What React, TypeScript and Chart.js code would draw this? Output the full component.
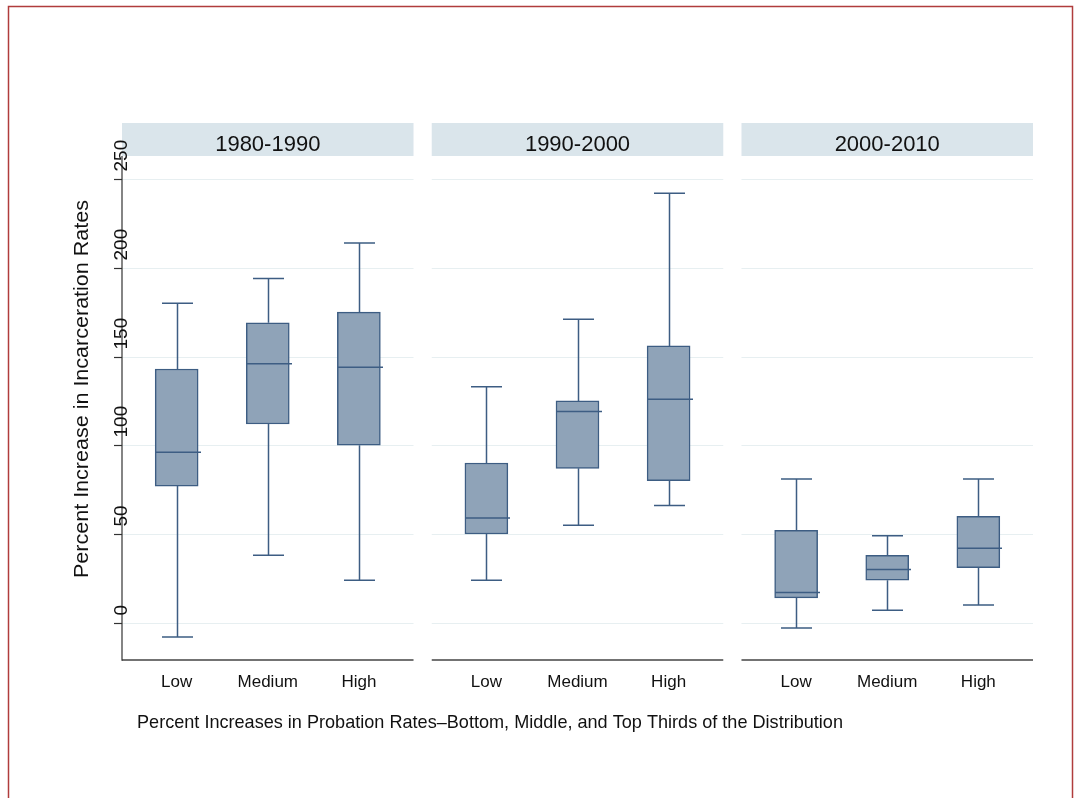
import { useEffect, useRef } from 'react';
import { Chart, registerables } from 'chart.js';

Chart.register(...registerables);

// ---------- data ----------
const periods = ['1980-1990', '1990-2000', '2000-2010'];
const groups = ['Low', 'Medium', 'High'];
// ordered: period 1 (Low, Medium, High), period 2 (...), period 3 (...)
const lowerWhisker = [-8, 38, 24, 24, 55, 66, -3, 7, 10];
const lowerQuartile = [77, 112, 100, 50, 87, 80, 14, 24, 31];
const medians = [96, 146, 144, 59, 119, 126, 17, 30, 42];
const upperQuartile = [143, 169, 175, 90, 125, 156, 52, 38, 60];
const upperWhisker = [180, 194, 214, 133, 171, 242, 81, 49, 81];
const yTicks = [0, 50, 100, 150, 200, 250];
const yTitle = 'Percent Increase in Incarceration Rates';
const xTitle =
  'Percent Increases in Probation Rates\u2013Bottom, Middle, and Top Thirds of the Distribution';

// ---------- layout helpers ----------
const PANEL_STEP = 3.4;
const FONT = '"Liberation Sans", Arial, Helvetica, sans-serif';
const BOX_FILL = '#8fa3b8';
const BOX_LINE = '#3d5d83';
const xOf = (p: number, g: number) => p * PANEL_STEP + g;
const panelMin = (p: number) => p * PANEL_STEP - 0.6;
const panelMax = (p: number) => p * PANEL_STEP + 2.6;

function fitText(ctx: CanvasRenderingContext2D, text: string, x: number, y: number, width: number) {
  const w = ctx.measureText(text).width;
  const sx = width / w;
  ctx.save();
  ctx.translate(x, y);
  ctx.scale(sx, 1);
  ctx.fillText(text, 0, 0);
  ctx.restore();
}

const panelPlugin = {
  id: 'stataPanels',
  beforeDatasetsDraw(chart: any) {
    const ctx: CanvasRenderingContext2D = chart.ctx;
    const xs = chart.scales.x;
    const ys = chart.scales.y;
    const area = chart.chartArea;
    ctx.save();

    // outer red frame
    ctx.strokeStyle = '#b03c3c';
    ctx.lineWidth = 1.5;
    ctx.strokeRect(8.5, 6.5, 1064, 900);

    periods.forEach((label, p) => {
      const l = xs.getPixelForValue(panelMin(p));
      const r = xs.getPixelForValue(panelMax(p));
      // gridlines
      ctx.strokeStyle = '#e7eff1';
      ctx.lineWidth = 1;
      yTicks.forEach((t) => {
        const y = Math.round(ys.getPixelForValue(t)) + 0.5;
        ctx.beginPath();
        ctx.moveTo(l, y);
        ctx.lineTo(r, y);
        ctx.stroke();
      });
      // header strip
      ctx.fillStyle = '#dae5eb';
      ctx.fillRect(l, 123, r - l, area.top - 123);
      ctx.fillStyle = '#111';
      ctx.font = `22px ${FONT}`;
      ctx.textAlign = 'center';
      ctx.textBaseline = 'alphabetic';
      ctx.fillText(label, (l + r) / 2, 151);
      // bottom axis line
      ctx.strokeStyle = '#444';
      ctx.lineWidth = 1.5;
      ctx.beginPath();
      ctx.moveTo(l, area.bottom);
      ctx.lineTo(r, area.bottom);
      ctx.stroke();
      // category labels
      ctx.fillStyle = '#111';
      ctx.font = `17px ${FONT}`;
      ctx.textAlign = 'center';
      groups.forEach((g, gi) => {
        ctx.fillText(g, xs.getPixelForValue(xOf(p, gi)), 687);
      });
    });

    // left axis line
    const ax = area.left;
    ctx.strokeStyle = '#333';
    ctx.lineWidth = 1.2;
    ctx.beginPath();
    ctx.moveTo(ax, area.top);
    ctx.lineTo(ax, area.bottom + 0.7);
    ctx.stroke();
    // ticks and rotated labels
    ctx.fillStyle = '#111';
    ctx.font = `19px ${FONT}`;
    ctx.textAlign = 'left';
    ctx.textBaseline = 'alphabetic';
    yTicks.forEach((t) => {
      const y = Math.round(ys.getPixelForValue(t)) + 0.5;
      ctx.beginPath();
      ctx.moveTo(ax - 8, y);
      ctx.lineTo(ax, y);
      ctx.stroke();
      ctx.save();
      ctx.translate(ax + 5, y - 8);
      ctx.rotate(-Math.PI / 2);
      ctx.fillText(String(t), 0, 0);
      ctx.restore();
    });

    // y title
    ctx.save();
    ctx.translate(88, 389);
    ctx.rotate(-Math.PI / 2);
    ctx.font = `20px ${FONT}`;
    ctx.textAlign = 'left';
    ctx.fillStyle = '#111';
    fitText(ctx, yTitle, -189, 0, 378);
    ctx.restore();

    // x title
    ctx.font = `19px ${FONT}`;
    ctx.textAlign = 'left';
    ctx.fillStyle = '#111';
    fitText(ctx, xTitle, 137, 728, 706);

    ctx.restore();
  },
  afterDatasetsDraw(chart: any) {
    const ctx: CanvasRenderingContext2D = chart.ctx;
    const xs = chart.scales.x;
    const ys = chart.scales.y;
    const meta = chart.getDatasetMeta(0);
    ctx.save();
    ctx.strokeStyle = BOX_LINE;
    ctx.lineWidth = 1.5;
    periods.forEach((_, p) => {
      groups.forEach((__, g) => {
        const i = p * 3 + g;
        const cx = Math.round(xs.getPixelForValue(xOf(p, g))) + 0.5;
        const bar = meta.data[i];
        const half = bar ? bar.width / 2 : 21;
        const cap = 15.5;
        const yLo = ys.getPixelForValue(lowerWhisker[i]);
        const yQ1 = ys.getPixelForValue(lowerQuartile[i]);
        const yQ3 = ys.getPixelForValue(upperQuartile[i]);
        const yHi = ys.getPixelForValue(upperWhisker[i]);
        const yMed = ys.getPixelForValue(medians[i]);
        ctx.beginPath();
        ctx.moveTo(cx, yQ3);
        ctx.lineTo(cx, yHi);
        ctx.moveTo(cx - cap, yHi);
        ctx.lineTo(cx + cap, yHi);
        ctx.moveTo(cx, yQ1);
        ctx.lineTo(cx, yLo);
        ctx.moveTo(cx - cap, yLo);
        ctx.lineTo(cx + cap, yLo);
        ctx.stroke();
        ctx.beginPath();
        ctx.moveTo(cx - half, yMed);
        ctx.lineTo(cx + half + 2, yMed);
        ctx.stroke();
      });
    });
    ctx.restore();
  },
};

export default function App() {
  const ref = useRef<HTMLCanvasElement | null>(null);
  useEffect(() => {
    if (!ref.current) return;
    const data = lowerQuartile.map((q1, i) => ({
      x: xOf(Math.floor(i / 3), i % 3),
      y: [q1, upperQuartile[i]],
    }));
    const chart = new Chart(ref.current, {
      type: 'bar',
      data: {
        datasets: [
          {
            data: data as any,
            backgroundColor: BOX_FILL,
            borderColor: BOX_LINE,
            borderWidth: 1.5,
            borderSkipped: false,
            barThickness: 43,
          },
        ],
      },
      options: {
        responsive: false,
        animation: false,
        layout: { padding: { left: 122, right: 46, top: 156, bottom: 138 } },
        plugins: { legend: { display: false }, tooltip: { enabled: false } },
        scales: {
          x: { type: 'linear', min: -0.6, max: 9.4, offset: false, display: false },
          y: { type: 'linear', min: -21, max: 263, display: false },
        },
      },
      plugins: [panelPlugin],
    });
    return () => chart.destroy();
  }, []);
  return (
    <div style={{ position: 'absolute', left: 0, top: 0, width: 1079, height: 798, background: '#fff' }}>
      <canvas ref={ref} width={1079} height={798} style={{ display: 'block' }} />
    </div>
  );
}
